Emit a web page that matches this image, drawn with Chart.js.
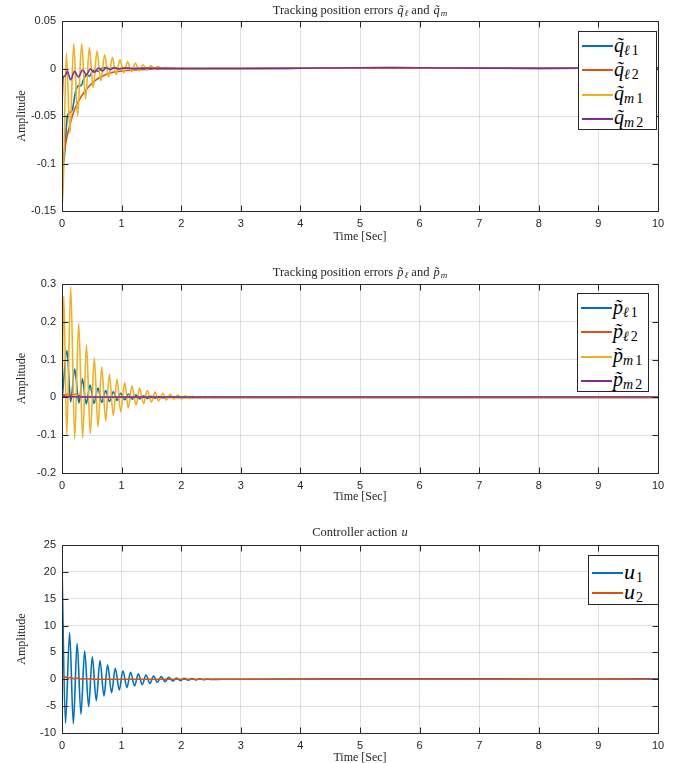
<!DOCTYPE html>
<html>
<head>
<meta charset="utf-8">
<script src="https://cdn.jsdelivr.net/npm/chart.js@4.4.0/dist/chart.umd.min.js"></script>
<style>
html, body { margin: 0; padding: 0; background: #fff; overflow: hidden; }
#wrap { position: relative; width: 681px; height: 763px; }
canvas { position: absolute; left: 0; }
.title { position: absolute; left: 62px; width: 596px; text-align: center; font: 12.5px "Liberation Serif", serif; color: #262626; white-space: nowrap; line-height: 14px; }
.title sub { font-size: 9px; vertical-align: -2px; line-height: 0; }
.title i { margin-left: 1px; }
.legend { position: absolute; border: 1px solid #262626; background: #fff; box-sizing: border-box; }
.row { display: flex; align-items: center; }
.row .ln { width: 31px; height: 2px; margin-left: 3px; }
.row .lb { margin-left: 1px; margin-top: -3px; font: italic 20px "Liberation Serif", serif; color: #000; line-height: 20px; white-space: nowrap; }
.row .lb sub { font-size: 14px; vertical-align: -3px; line-height: 0; letter-spacing: 2px; }
.row .lb sub span { font-style: normal; }
#lg3 .lb { font-size: 22px; letter-spacing: 1px; }
</style>
</head>
<body>
<div id="wrap">
  <canvas id="c1" width="681" height="244" style="top:0px"></canvas>
  <canvas id="c2" width="681" height="241" style="top:263px"></canvas>
  <canvas id="c3" width="681" height="241" style="top:524px"></canvas>

  <div class="title" style="top:3px">Tracking position errors <i>q&#771;</i><sub><i>&#8467;</i></sub> and <i>q&#771;</i><sub><i>m</i></sub></div>
  <div class="title" style="top:265px">Tracking position errors <i>p&#771;</i><sub><i>&#8467;</i></sub> and <i>p&#771;</i><sub><i>m</i></sub></div>
  <div class="title" style="top:525px">Controller action <i>u</i></div>

  <div class="legend" id="lg1" style="left:578px;top:31px;width:79px;height:99px;padding-top:2px"></div>
  <div class="legend" id="lg2" style="left:577px;top:293px;width:72px;height:99px;padding-top:2px"></div>
  <div class="legend" id="lg3" style="left:588px;top:555px;width:71px;height:50px;padding-top:7px"></div>
</div>
<script>
// colours (MATLAB defaults)
const blue = '#0072BD', orange = '#D95319', yellow = '#EDB120', purple = '#7E2F8E';

// shared x ticks
const xTicks = [0, 1, 2, 3, 4, 5, 6, 7, 8, 9, 10];

// ---------- subplot 1: q errors ----------
const yTicks1 = [-0.15, -0.1, -0.05, 0, 0.05];
const tQl1 = [0, 0.03, 0.09, 0.13, 0.17, 0.23, 0.28, 0.32, 0.37, 0.42, 0.46, 0.51, 0.56, 0.61, 0.66, 0.73, 0.8, 0.87, 0.95, 1.05, 1.2, 1.5, 2, 3, 4, 5, 6, 7, 8, 9, 10];
const vQl1 = [-0.1, -0.098, -0.05, -0.046, -0.044, -0.024, -0.018, -0.018, -0.01, -0.007, -0.008, -0.003, -0.002, -0.003, 0, 0.001, -0.0003, 0.0008, 0, 0.0004, 0, 0.0002, 0, 0, 0.0002, 0.0005, 0.0005, 0.0003, 0.0001, 0.0003, 0.0005];
const tQl2 = [0, 0.03, 0.08, 0.13, 0.2, 0.28, 0.36, 0.45, 0.55, 0.65, 0.75, 0.9, 1.1, 1.4, 1.8, 2.5, 3, 4, 5, 6, 7, 8, 9, 10];
const vQl2 = [-0.1, -0.09, -0.073, -0.06, -0.045, -0.034, -0.026, -0.019, -0.013, -0.009, -0.006, -0.0035, -0.002, -0.001, -0.0003, 0, 0, 0.0002, 0.0005, 0.0005, 0.0003, 0.0001, 0.0003, 0.0005];
const tQm1 = [0, 0.012, 0.073, 0.134, 0.196, 0.262, 0.33, 0.395, 0.459, 0.523, 0.587, 0.651, 0.716, 0.78, 0.845, 0.909, 0.973, 1.037, 1.1, 1.165, 1.23, 1.295, 1.36, 1.425, 1.49, 1.55, 1.61, 1.68, 1.74, 1.8, 1.87, 1.93, 2.0, 2.2, 2.5, 3, 4, 5, 5.5, 6, 7, 8, 9, 10];
const vQm1 = [-0.13, -0.14, 0.016, -0.068, 0.026, -0.05, 0.026, -0.032, 0.022, -0.02, 0.0185, -0.013, 0.0145, -0.009, 0.0115, -0.0065, 0.0092, -0.0045, 0.007, -0.0032, 0.0055, -0.0022, 0.004, -0.0015, 0.003, -0.001, 0.002, -0.0007, 0.0013, -0.0005, 0.0008, -0.0003, 0.0004, 0, 0, 0, 0.0003, 0.0008, 0.0009, 0.0008, 0.0004, 0.0002, 0.0004, 0.0008];
const tQm2 = [0, 0.02, 0.05, 0.09, 0.145, 0.21, 0.275, 0.345, 0.41, 0.475, 0.545, 0.61, 0.68, 0.745, 0.815, 0.88, 0.95, 1.05, 1.2, 1.5, 2, 3, 4, 5, 5.5, 6, 7, 8, 9, 10];
const vQm2 = [-0.04, -0.009, -0.008, -0.003, -0.012, -0.003, -0.009, -0.0015, -0.0065, -0.0005, -0.004, 0.0005, -0.0025, 0.0008, -0.0012, 0.0008, -0.0006, 0.0006, 0, 0.0003, 0, 0, 0.0003, 0.0008, 0.0009, 0.0008, 0.0004, 0.0002, 0.0004, 0.0008];

// ---------- subplot 2: p errors ----------
const yTicks2 = [-0.2, -0.1, 0, 0.1, 0.2, 0.3];
const tPl1 = [0, 0.084, 0.145, 0.213, 0.285, 0.341, 0.408, 0.47, 0.537, 0.604, 0.666, 0.733, 0.794, 0.861, 0.923, 0.984, 1.051, 1.113, 1.18, 1.242, 1.303, 1.37, 1.43, 1.5, 1.56, 1.62, 1.7, 1.8, 2, 3, 10];
const vPl1 = [-0.01, 0.124, -0.012, 0.075, -0.015, 0.049, -0.017, 0.033, -0.016, 0.025, -0.013, 0.018, -0.011, 0.015, -0.008, 0.011, -0.006, 0.009, -0.005, 0.006, -0.004, 0.004, -0.003, 0.003, -0.002, 0.002, -0.001, 0.001, 0, 0, 0];
const tPl2 = [0, 0.04, 0.1, 0.16, 0.22, 0.3, 0.45, 0.7, 1, 10];
const vPl2 = [0, 0.007, 0.009, 0.006, 0.008, 0.003, 0.001, 0, 0, 0];
const tPm1 = [0, 0.03, 0.08, 0.146, 0.213, 0.28, 0.347, 0.41, 0.475, 0.542, 0.604, 0.666, 0.733, 0.794, 0.861, 0.923, 0.985, 1.052, 1.112, 1.174, 1.242, 1.3, 1.37, 1.43, 1.5, 1.56, 1.62, 1.69, 1.75, 1.82, 1.88, 1.94, 2.01, 2.07, 2.14, 2.2, 2.27, 2.33, 2.4, 2.46, 2.53, 2.7, 3, 10];
const vPm1 = [-0.01, 0.268, -0.099, 0.292, -0.109, 0.196, -0.107, 0.139, -0.096, 0.104, -0.078, 0.08, -0.062, 0.061, -0.048, 0.048, -0.038, 0.039, -0.028, 0.031, -0.02, 0.024, -0.016, 0.018, -0.012, 0.014, -0.009, 0.011, -0.007, 0.008, -0.005, 0.006, -0.004, 0.004, -0.003, 0.003, -0.002, 0.002, -0.0015, 0.0015, -0.001, 0, 0, 0];
const tPm2 = [0, 0.05, 0.15, 0.3, 1, 10];
const vPm2 = [0.001, 0.003, 0.002, 0.001, 0.001, 0.001];

// ---------- subplot 3: controller action ----------
const yTicks3 = [-10, -5, 0, 5, 10, 15, 20, 25];
const tU1 = [0, 0.058, 0.128, 0.19, 0.254, 0.318, 0.38, 0.447, 0.508, 0.575, 0.637, 0.704, 0.765, 0.832, 0.894, 0.961, 1.022, 1.09, 1.15, 1.218, 1.28, 1.346, 1.41, 1.475, 1.536, 1.6, 1.665, 1.73, 1.79, 1.86, 1.92, 1.99, 2.05, 2.12, 2.18, 2.25, 2.31, 2.37, 2.44, 2.5, 2.7, 3, 4, 5, 6, 7, 8, 9, 10];
const vU1 = [21, -8.2, 8.7, -8.3, 6.7, -6.5, 5.3, -5.1, 4.2, -4.0, 3.5, -3.1, 2.7, -2.5, 2.05, -2.0, 1.6, -1.55, 1.3, -1.24, 1.0, -1.0, 0.8, -0.75, 0.6, -0.56, 0.5, -0.43, 0.35, -0.33, 0.25, -0.25, 0.18, -0.18, 0.13, -0.12, 0.08, -0.08, 0.05, -0.05, 0, 0, 0.05, 0.1, 0.1, 0.08, 0.05, 0.05, 0.1];
const tU2 = [0, 0.01, 0.05, 0.1, 0.15, 0.2, 0.25, 0.3, 0.4, 0.6, 1, 3, 5, 7, 10];
const vU2 = [1.3, 0.5, 0.45, 0.2, 0.35, 0.1, 0.25, 0.05, 0.1, 0, 0, 0, 0, 0, 0];

const ink = '#262626';
const tickFont = { family: '"Liberation Sans", Arial, sans-serif', size: 11 };
const labelFont = { family: '"Liberation Serif", serif', size: 12 };
const fmt = v => String(Math.round(v * 1000) / 1000);
const pts = (t, v) => t.map((x, i) => ({ x: x, y: v[i] }));

// box + inward ticks like MATLAB axes
const boxPlugin = {
    id: 'box',
    afterDatasetsDraw(chart) {
        const { ctx, chartArea: a, scales: { x, y } } = chart;
        const L = Math.round(a.left) + 0.5, R = Math.round(a.right) + 0.5;
        const T = Math.round(a.top) + 0.5, B = Math.round(a.bottom) + 0.5;
        ctx.save();
        ctx.strokeStyle = ink;
        ctx.lineWidth = 1;
        ctx.beginPath();
        x.ticks.forEach(t => {
            const px = Math.round(x.getPixelForValue(t.value)) + 0.5;
            ctx.moveTo(px, B); ctx.lineTo(px, B - 6);
            ctx.moveTo(px, T); ctx.lineTo(px, T + 6);
        });
        y.ticks.forEach(t => {
            const py = Math.round(y.getPixelForValue(t.value)) + 0.5;
            ctx.moveTo(L, py); ctx.lineTo(L + 6, py);
            ctx.moveTo(R, py); ctx.lineTo(R - 6, py);
        });
        ctx.rect(L, T, R - L, B - T);
        ctx.stroke();
        ctx.restore();
    }
};

function makeChart(id, datasets, yMin, yMax, yTicks, height, areaBottom) {
    new Chart(document.getElementById(id), {
        type: 'line',
        data: { datasets: datasets },
        options: {
            responsive: false,
            animation: false,
            devicePixelRatio: 1,
            layout: { padding: { top: 21, right: 23, left: 0, bottom: 0 } },
            plugins: { legend: { display: false }, tooltip: { enabled: false } },
            elements: {
                point: { radius: 0 },
                line: { borderWidth: 1.6, cubicInterpolationMode: 'monotone' }
            },
            scales: {
                x: {
                    type: 'linear', min: 0, max: 10,
                    afterBuildTicks: s => { s.ticks = xTicks.map(v => ({ value: v })); },
                    afterFit: s => { s.height = height - areaBottom; },
                    grid: { color: 'rgba(0,0,0,0.12)', drawTicks: false },
                    border: { display: false },
                    ticks: { padding: 6, font: tickFont, color: ink, maxRotation: 0, autoSkip: false, callback: fmt },
                    title: { display: true, text: 'Time [Sec]', font: labelFont, color: ink, padding: { top: 0, bottom: 0 } }
                },
                y: {
                    type: 'linear', min: yMin, max: yMax,
                    afterBuildTicks: s => { s.ticks = yTicks.map(v => ({ value: v })); },
                    afterFit: s => { s.width = 62; },
                    grid: { color: 'rgba(0,0,0,0.12)', drawTicks: false },
                    border: { display: false },
                    ticks: { padding: 6, font: tickFont, color: ink, autoSkip: false, callback: fmt },
                    title: { display: true, text: 'Amplitude', font: labelFont, color: ink, padding: { top: 15, bottom: 0 } }
                }
            }
        },
        plugins: [boxPlugin]
    });
}

const ds = (label, t, v, color, order) => ({ label: label, data: pts(t, v), borderColor: color, backgroundColor: color, order: order, fill: false });

makeChart('c1', [
    ds('q_l1', tQl1, vQl1, blue, 4),
    ds('q_l2', tQl2, vQl2, orange, 3),
    ds('q_m1', tQm1, vQm1, yellow, 2),
    ds('q_m2', tQm2, vQm2, purple, 1)
], -0.15, 0.05, yTicks1, 244, 211);

makeChart('c2', [
    ds('p_l1', tPl1, vPl1, blue, 4),
    ds('p_l2', tPl2, vPl2, orange, 3),
    ds('p_m1', tPm1, vPm1, yellow, 2),
    ds('p_m2', tPm2, vPm2, purple, 1)
], -0.2, 0.3, yTicks2, 241, 210);

makeChart('c3', [
    ds('u1', tU1, vU1, blue, 2),
    ds('u2', tU2, vU2, orange, 1)
], -10, 25, yTicks3, 241, 209);

// legends with math-style labels
function legend(id, items, rowH) {
    const box = document.getElementById(id);
    items.forEach(it => {
        const row = document.createElement('div');
        row.className = 'row';
        row.style.height = rowH + 'px';
        row.innerHTML = '<span class="ln" style="background:' + it[0] + '"></span><span class="lb">' + it[1] + '</span>';
        box.appendChild(row);
    });
}
legend('lg1', [
    [blue, 'q&#771;<sub>&#8467;<span>1</span></sub>'],
    [orange, 'q&#771;<sub>&#8467;<span>2</span></sub>'],
    [yellow, 'q&#771;<sub>m<span>1</span></sub>'],
    [purple, 'q&#771;<sub>m<span>2</span></sub>']
], 24.25);
legend('lg2', [
    [blue, 'p&#771;<sub>&#8467;<span>1</span></sub>'],
    [orange, 'p&#771;<sub>&#8467;<span>2</span></sub>'],
    [yellow, 'p&#771;<sub>m<span>1</span></sub>'],
    [purple, 'p&#771;<sub>m<span>2</span></sub>']
], 24.25);
legend('lg3', [
    [blue, 'u<sub><span>1</span></sub>'],
    [orange, 'u<sub><span>2</span></sub>']
], 20);
</script>
</body>
</html>
